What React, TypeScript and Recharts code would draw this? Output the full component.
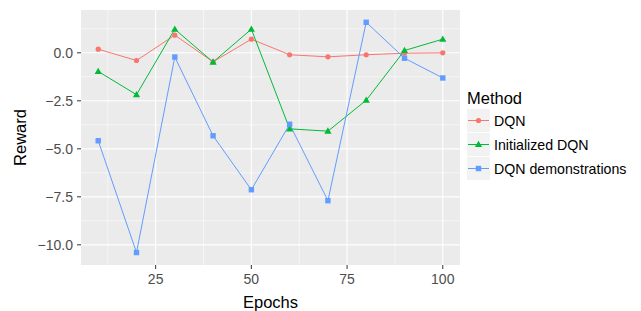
import { LineChart, Line, XAxis, YAxis, CartesianGrid } from 'recharts';

const epochs = [10, 20, 30, 40, 50, 60, 70, 80, 90, 100];
const dqn = [0.19, -0.4, 0.92, -0.47, 0.71, -0.1, -0.21, -0.1, -0.02, 0.0];
const initializedDqn = [-0.97, -2.18, 1.23, -0.48, 1.23, -3.96, -4.08, -2.47, 0.12, 0.71];
const dqnDemonstrations = [-4.58, -10.4, -0.22, -4.32, -7.13, -3.72, -7.7, 1.59, -0.28, -1.31];

const xTicks = [25, 50, 75, 100];
const yTicks = [-10, -7.5, -5, -2.5, 0];
const xMinor = [12.5, 37.5, 62.5, 87.5];
const yMinor = [-8.75, -6.25, -3.75, -1.25, 1.25];

const seriesNames = ['DQN', 'Initialized DQN', 'DQN demonstrations'];
const COLORS = ['#F8766D', '#00BA38', '#619CFF'];

const data = epochs.map((e, i) => ({
  epoch: e,
  dqn: dqn[i],
  init: initializedDqn[i],
  demo: dqnDemonstrations[i],
}));

const FONT = '"Liberation Sans", Arial, Helvetica, sans-serif';

const fmt = (v: number) => v.toFixed(1).replace('-', '\u2212');

function marker(kind: number, cx: number, cy: number, color: string, key?: string) {
  if (kind === 0) return <circle key={key} cx={cx} cy={cy} r={2.6} fill={color} />;
  if (kind === 1)
    return (
      <polygon
        key={key}
        points={`${cx},${cy - 3.8} ${cx - 3.6},${cy + 2.6} ${cx + 3.6},${cy + 2.6}`}
        fill={color}
      />
    );
  return <rect key={key} x={cx - 2.7} y={cy - 2.7} width={5.4} height={5.4} fill={color} />;
}

const dotFor = (kind: number) => (props: any) =>
  marker(kind, props.cx, props.cy, COLORS[kind], `d-${kind}-${props.index}`);

function LegendBox() {
  return (
    <svg
      width={641}
      height={311}
      style={{ position: 'absolute', left: 0, top: 0, pointerEvents: 'none' }}
    >
      <text x={467} y={104} fontSize={16.5} fontFamily={FONT} fill="#000">
        Method
      </text>
      {seriesNames.map((name, i) => {
        const top = 109 + i * 24;
        const cy = top + 11.5;
        return (
          <g key={name}>
            <rect x={467} y={top} width={23} height={23} fill="#F2F2F2" />
            <line x1={468} x2={489} y1={cy} y2={cy} stroke={COLORS[i]} strokeWidth={1} />
            {marker(i, 478.5, cy, COLORS[i])}
            <text x={494} y={cy + 5} fontSize={14.2} fontFamily={FONT} fill="#000">
              {name}
            </text>
          </g>
        );
      })}
    </svg>
  );
}

export default function App() {
  return (
    <div style={{ position: 'absolute', left: 0, top: 0, width: 641, height: 311, background: '#fff' }}>
      <LineChart
        width={641}
        height={311}
        data={data}
        margin={{ top: 10, right: 181, bottom: 0, left: 0 }}
        style={{ fontFamily: FONT }}
      >
        <CartesianGrid
          fill="#EBEBEB"
          fillOpacity={1}
          stroke="#FFFFFF"
          strokeWidth={0.55}
          horizontalValues={yMinor}
          verticalValues={xMinor}
        />
        <CartesianGrid
          stroke="#FFFFFF"
          strokeWidth={1.1}
          horizontalValues={yTicks}
          verticalValues={xTicks}
        />
        <XAxis
          dataKey="epoch"
          type="number"
          domain={[5.5, 104.5]}
          ticks={xTicks}
          axisLine={false}
          tickSize={4}
          tickMargin={5}
          tickLine={{ stroke: '#333333' }}
          tick={{ fill: '#4D4D4D', fontSize: 14 }}
          height={46}
          label={{ value: 'Epochs', position: 'insideBottom', offset: 3, fill: '#000', fontSize: 16.5 }}
        />
        <YAxis
          type="number"
          domain={[-11.05, 2.23]}
          ticks={yTicks}
          tickFormatter={fmt}
          axisLine={false}
          tickSize={4}
          tickMargin={4}
          tickLine={{ stroke: '#333333' }}
          tick={{ fill: '#4D4D4D', fontSize: 14 }}
          width={81}
          allowDataOverflow
          label={{ value: 'Reward', angle: -90, position: 'center', dx: -20, fill: '#000', fontSize: 16.5 }}
        />
        <Line
          dataKey="dqn"
          name={seriesNames[0]}
          stroke={COLORS[0]}
          strokeWidth={1}
          dot={dotFor(0)}
          activeDot={false}
          isAnimationActive={false}
        />
        <Line
          dataKey="init"
          name={seriesNames[1]}
          stroke={COLORS[1]}
          strokeWidth={1}
          dot={dotFor(1)}
          activeDot={false}
          isAnimationActive={false}
        />
        <Line
          dataKey="demo"
          name={seriesNames[2]}
          stroke={COLORS[2]}
          strokeWidth={1}
          dot={dotFor(2)}
          activeDot={false}
          isAnimationActive={false}
        />
      </LineChart>
      <LegendBox />
    </div>
  );
}
